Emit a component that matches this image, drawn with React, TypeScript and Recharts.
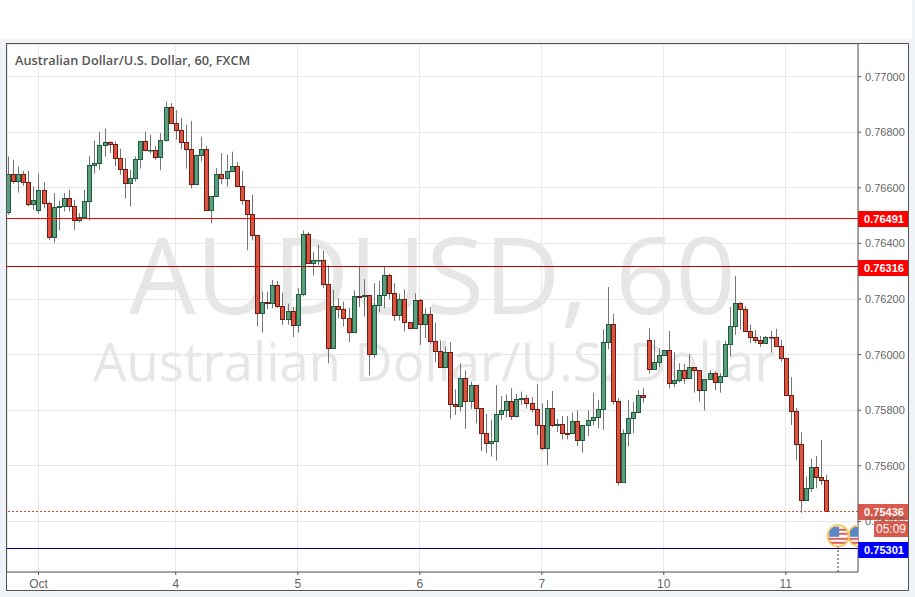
import { ComposedChart, Bar, XAxis, YAxis, CartesianGrid, ReferenceLine, ReferenceDot } from 'recharts';

// hourly AUD/USD candles
const opens = [
  0.76513, 0.76649, 0.76624, 0.76649, 0.76621, 0.76541, 0.76520, 0.76592, 0.76545, 0.76423, 0.76531, 0.76534,
  0.76563, 0.76534, 0.76484, 0.76495, 0.76552, 0.76682, 0.76689, 0.76754, 0.76765, 0.76757, 0.76707, 0.76667,
  0.76617, 0.76635, 0.76703, 0.76768, 0.76735, 0.76736, 0.76711, 0.76772, 0.76891, 0.76833, 0.76808, 0.76765,
  0.76739, 0.76613, 0.76718, 0.76739, 0.76520, 0.76570, 0.76649, 0.76635, 0.76660, 0.76678, 0.76606, 0.76556,
  0.76505, 0.76430, 0.76149, 0.76189, 0.76185, 0.76250, 0.76174, 0.76127, 0.76156, 0.76106, 0.76217, 0.76433,
  0.76329, 0.76339, 0.76340, 0.76253, 0.76023, 0.76174, 0.76163, 0.76131, 0.76083, 0.76211, 0.76210, 0.76214,
  0.76001, 0.76178, 0.76214, 0.76286, 0.76221, 0.76142, 0.76199, 0.76117, 0.76095, 0.76196, 0.76109, 0.76145,
  0.76048, 0.76012, 0.75955, 0.76009, 0.75821, 0.75814, 0.75915, 0.75832, 0.75890, 0.75807, 0.75717, 0.75681,
  0.75688, 0.75785, 0.75800, 0.75832, 0.75778, 0.75839, 0.75843, 0.75825, 0.75803, 0.75746, 0.75663, 0.75807,
  0.75746, 0.75749, 0.75718, 0.75717, 0.75760, 0.75692, 0.75746, 0.75764, 0.75775, 0.75803, 0.76045, 0.76109,
  0.75832, 0.75541, 0.75717, 0.75771, 0.75793, 0.75854, 0.76052, 0.75947, 0.75973, 0.75998, 0.76016, 0.75897,
  0.75908, 0.75944, 0.75915, 0.75955, 0.75944, 0.75872, 0.75911, 0.75933, 0.75901, 0.75922, 0.76037, 0.76102,
  0.76185, 0.76163, 0.76084, 0.76063, 0.76052, 0.76041, 0.76064, 0.76063, 0.76030, 0.75987, 0.75854, 0.75796,
  0.75677, 0.75476, 0.75519, 0.75595, 0.75559, 0.75548,
];
const highs = [
  0.76713, 0.76701, 0.76677, 0.76661, 0.76661, 0.76605, 0.76651, 0.76621, 0.76551, 0.76581, 0.76553, 0.76581,
  0.76593, 0.76557, 0.76509, 0.76593, 0.76715, 0.76769, 0.76801, 0.76813, 0.76767, 0.76767, 0.76741, 0.76707,
  0.76665, 0.76713, 0.76769, 0.76802, 0.76791, 0.76751, 0.76797, 0.76910, 0.76905, 0.76879, 0.76851, 0.76827,
  0.76841, 0.76719, 0.76784, 0.76751, 0.76570, 0.76671, 0.76725, 0.76719, 0.76730, 0.76693, 0.76661, 0.76556,
  0.76575, 0.76430, 0.76227, 0.76227, 0.76269, 0.76265, 0.76223, 0.76183, 0.76171, 0.76239, 0.76447, 0.76441,
  0.76370, 0.76395, 0.76373, 0.76321, 0.76233, 0.76203, 0.76191, 0.76167, 0.76231, 0.76315, 0.76271, 0.76214,
  0.76257, 0.76265, 0.76315, 0.76291, 0.76257, 0.76219, 0.76235, 0.76117, 0.76221, 0.76201, 0.76167, 0.76171,
  0.76115, 0.76051, 0.76029, 0.76045, 0.75875, 0.75969, 0.75943, 0.75903, 0.75890, 0.75807, 0.75787, 0.75765,
  0.75890, 0.75851, 0.75857, 0.75879, 0.75859, 0.75867, 0.75855, 0.75847, 0.75895, 0.75825, 0.75837, 0.75869,
  0.75769, 0.75779, 0.75779, 0.75791, 0.75799, 0.75746, 0.75799, 0.75863, 0.75837, 0.76091, 0.76243, 0.76147,
  0.75843, 0.75731, 0.75837, 0.75829, 0.75873, 0.75879, 0.76095, 0.76055, 0.76023, 0.76016, 0.76085, 0.76009,
  0.75969, 0.75967, 0.76003, 0.75955, 0.75944, 0.75911, 0.75945, 0.75940, 0.75933, 0.76049, 0.76171, 0.76283,
  0.76189, 0.76175, 0.76107, 0.76089, 0.76067, 0.76067, 0.76085, 0.76093, 0.76053, 0.75987, 0.75919, 0.75808,
  0.75721, 0.75561, 0.75625, 0.75635, 0.75693, 0.75567,
];
const lows = [
  0.76503, 0.76615, 0.76583, 0.76607, 0.76533, 0.76521, 0.76507, 0.76527, 0.76413, 0.76403, 0.76447, 0.76515,
  0.76515, 0.76449, 0.76475, 0.76491, 0.76483, 0.76651, 0.76665, 0.76713, 0.76725, 0.76677, 0.76647, 0.76562,
  0.76533, 0.76623, 0.76669, 0.76731, 0.76723, 0.76701, 0.76663, 0.76767, 0.76833, 0.76773, 0.76739, 0.76669,
  0.76598, 0.76613, 0.76695, 0.76520, 0.76472, 0.76570, 0.76613, 0.76605, 0.76660, 0.76605, 0.76539, 0.76375,
  0.76411, 0.76101, 0.76079, 0.76163, 0.76167, 0.76167, 0.76107, 0.76107, 0.76063, 0.76079, 0.76209, 0.76325,
  0.76285, 0.76323, 0.76239, 0.75969, 0.76023, 0.76131, 0.76101, 0.76045, 0.76077, 0.76171, 0.76137, 0.75925,
  0.75989, 0.76153, 0.76167, 0.76199, 0.76121, 0.76123, 0.76083, 0.76091, 0.76095, 0.76035, 0.76059, 0.76039,
  0.75973, 0.75951, 0.75951, 0.75769, 0.75783, 0.75795, 0.75733, 0.75805, 0.75753, 0.75653, 0.75645, 0.75633,
  0.75619, 0.75765, 0.75773, 0.75765, 0.75773, 0.75819, 0.75805, 0.75791, 0.75711, 0.75655, 0.75603, 0.75739,
  0.75721, 0.75695, 0.75695, 0.75713, 0.75671, 0.75647, 0.75707, 0.75745, 0.75735, 0.75729, 0.76019, 0.75820,
  0.75529, 0.75541, 0.75669, 0.75717, 0.75789, 0.75827, 0.75932, 0.75947, 0.75955, 0.75998, 0.75878, 0.75883,
  0.75899, 0.75895, 0.75915, 0.75863, 0.75831, 0.75799, 0.75911, 0.75871, 0.75863, 0.75922, 0.75993, 0.76071,
  0.76089, 0.76084, 0.76041, 0.76041, 0.76027, 0.76041, 0.76007, 0.76030, 0.75975, 0.75854, 0.75747, 0.75621,
  0.75431, 0.75476, 0.75507, 0.75519, 0.75531, 0.75436,
];
const closes = [
  0.76649, 0.76624, 0.76649, 0.76621, 0.76541, 0.76556, 0.76592, 0.76545, 0.76423, 0.76531, 0.76534, 0.76563,
  0.76534, 0.76484, 0.76495, 0.76552, 0.76682, 0.76689, 0.76754, 0.76765, 0.76757, 0.76707, 0.76667, 0.76617,
  0.76635, 0.76703, 0.76768, 0.76736, 0.76737, 0.76711, 0.76772, 0.76891, 0.76833, 0.76808, 0.76765, 0.76739,
  0.76613, 0.76718, 0.76739, 0.76520, 0.76570, 0.76649, 0.76635, 0.76660, 0.76678, 0.76606, 0.76556, 0.76505,
  0.76430, 0.76149, 0.76189, 0.76185, 0.76250, 0.76174, 0.76127, 0.76156, 0.76106, 0.76217, 0.76433, 0.76329,
  0.76340, 0.76341, 0.76253, 0.76023, 0.76174, 0.76163, 0.76131, 0.76083, 0.76210, 0.76209, 0.76214, 0.76001,
  0.76178, 0.76214, 0.76286, 0.76221, 0.76142, 0.76199, 0.76117, 0.76095, 0.76196, 0.76109, 0.76145, 0.76048,
  0.76012, 0.75955, 0.76009, 0.75821, 0.75814, 0.75915, 0.75832, 0.75890, 0.75807, 0.75717, 0.75681, 0.75688,
  0.75785, 0.75800, 0.75832, 0.75778, 0.75839, 0.75843, 0.75825, 0.75803, 0.75746, 0.75663, 0.75807, 0.75746,
  0.75749, 0.75717, 0.75716, 0.75760, 0.75692, 0.75746, 0.75764, 0.75775, 0.75803, 0.76045, 0.76109, 0.75832,
  0.75541, 0.75717, 0.75771, 0.75793, 0.75854, 0.75847, 0.75947, 0.75973, 0.75998, 0.76016, 0.75897, 0.75908,
  0.75944, 0.75915, 0.75955, 0.75944, 0.75872, 0.75911, 0.75933, 0.75901, 0.75922, 0.76037, 0.76102, 0.76185,
  0.76163, 0.76084, 0.76063, 0.76052, 0.76041, 0.76063, 0.76062, 0.76030, 0.75987, 0.75854, 0.75796, 0.75677,
  0.75476, 0.75519, 0.75595, 0.75559, 0.75548, 0.75436,
];

const dayTicks = [6, 33, 57, 81, 105, 129, 153];
const dayLabels = ['Oct', '4', '5', '6', '7', '10', '11'];
const priceTicks = [0.754, 0.756, 0.758, 0.76, 0.762, 0.764, 0.766, 0.768, 0.77];

const candles = opens.map((open, i) => ({ index: i, open, high: highs[i], low: lows[i], close: closes[i] }));

const UP_FILL = '#5c9e7c';
const UP_EDGE = '#1d5c40';
const DOWN_FILL = '#dc5340';
const DOWN_EDGE = '#6e1c14';

function Candle(props: any) {
  const { x, y, width, height, payload } = props;
  const { open, high, low, close } = payload;
  const cx = Math.round(x + width / 2);
  const perUnit = height / (high - low);
  const top = y + (high - Math.max(open, close)) * perUnit;
  const bottom = y + (high - Math.min(open, close)) * perUnit;
  const up = close >= open;
  return (
    <g>
      <line x1={cx + 0.5} x2={cx + 0.5} y1={y} y2={y + height} stroke="#757575" strokeWidth={1} />
      <rect
        x={cx - 1.5}
        y={Math.round(top) + 0.5}
        width={4}
        height={Math.max(Math.round(bottom) - Math.round(top), 0.5)}
        fill={up ? UP_FILL : DOWN_FILL}
        stroke={up ? UP_EDGE : DOWN_EDGE}
        strokeWidth={1}
      />
    </g>
  );
}

function PriceTag({ viewBox, text, fill }: any) {
  const right = viewBox.x + viewBox.width;
  const y = Math.round(viewBox.y);
  return (
    <g>
      <rect x={right} y={y - 7} width={50} height={16} fill={fill} />
      <text x={right + 26} y={y + 5} textAnchor="middle" fill="#fff" fontSize={11} fontWeight={700} fontFamily="Liberation Sans">
        {text}
      </text>
    </g>
  );
}

// event marker on the time scale, the second one is cut by the price axis
function Flag({ cx, cy, id, clipRight }: any) {
  const left = clipRight ? cx - 11 : cx - 12;
  return (
    <svg x={left} y={cy - 12} width={clipRight ? 11 : 24} height={24} overflow="hidden">
      <clipPath id={id}>
        <circle cx={12} cy={12} r={10} />
      </clipPath>
      <circle cx={12} cy={12} r={10.5} fill="#fff" stroke="#fbc75e" strokeWidth={2} />
      <g clipPath={`url(#${id})`}>
        <rect x={12} y={5} width={12} height={2} fill="#e0605c" />
        <rect x={12} y={9} width={12} height={2} fill="#e0605c" />
        <rect x={0} y={14} width={24} height={2} fill="#e0605c" />
        <rect x={0} y={18} width={24} height={2} fill="#e0605c" />
        <rect x={3} y={3} width={10} height={10} fill="#5b86c8" />
      </g>
    </svg>
  );
}

export default function App() {
  return (
    <div style={{ position: 'fixed', left: 0, top: 0, width: 915, height: 597, background: '#f0f3f8', overflow: 'hidden' }}>
      <style>{`.recharts-cartesian-grid line, .recharts-reference-line line { shape-rendering: crispEdges; }`}</style>
      <div style={{ position: 'absolute', left: 0, top: 0, width: 912, height: 39, background: '#fff' }} />
      <div style={{ position: 'absolute', left: 7, top: 44, width: 901, height: 546, background: '#fff', outline: '1px solid #555', overflow: 'hidden' }}>
        <div style={{ position: 'absolute', left: 0, width: 851, top: 173, textAlign: 'center', fontFamily: 'Open Sans', fontSize: 105.5, lineHeight: '112px', color: '#e6e6e6', whiteSpace: 'nowrap' }}>
          AUDUSD, 60
        </div>
        <div style={{ position: 'absolute', left: 2, width: 851, top: 287, textAlign: 'center', fontFamily: 'Open Sans', fontSize: 52.5, lineHeight: '60px', color: '#e6e6e6', whiteSpace: 'nowrap' }}>
          Australian Dollar/U.S. Dollar
        </div>
        <ComposedChart
          width={901}
          height={546}
          data={candles}
          margin={{ top: 0, right: 0, bottom: 0, left: 0 }}
          style={{ position: 'absolute', left: 0, top: 0 }}
        >
          <CartesianGrid stroke="#e8e8e8" />
          <XAxis
            type="number"
            dataKey="index"
            domain={[-0.197, 167.2]}
            ticks={dayTicks}
            interval={0}
            allowDataOverflow
            tickFormatter={(v: number) => dayLabels[dayTicks.indexOf(v)]}
            tick={{ fill: '#666', fontSize: 12, fontFamily: 'Liberation Sans' }}
            tickLine={{ stroke: '#555' }}
            tickSize={3}
            tickMargin={4}
            axisLine={{ stroke: '#555' }}
            height={18}
          />
          <YAxis
            orientation="right"
            type="number"
            domain={[0.752178, 0.771175]}
            ticks={priceTicks}
            interval={0}
            allowDataOverflow
            tickFormatter={(v: number) => v.toFixed(5)}
            tick={{ fill: '#666', fontSize: 11, fontFamily: 'Liberation Sans' }}
            tickLine={{ stroke: '#555' }}
            tickSize={3}
            tickMargin={4}
            axisLine={{ stroke: '#555' }}
            width={50}
          />
          <Bar dataKey={(d: any) => [d.low, d.high]} barSize={5} isAnimationActive={false} shape={<Candle />} />
          <ReferenceLine y={0.76491} stroke="#ff0000" label={<PriceTag text="0.76491" fill="#ff0000" />} />
          <ReferenceLine y={0.76316} stroke="#c00000" label={<PriceTag text="0.76316" fill="#ff0000" />} />
          <ReferenceLine y={0.75436} stroke="#c8503f" strokeDasharray="2 2" label={<PriceTag text="0.75436" fill="#d9594a" />} />
          <ReferenceLine y={0.75301} stroke="#00008a" label={<PriceTag text="0.75301" fill="#0000ff" />} />
          <ReferenceLine
            segment={[{ x: 163.3, y: 0.7531 }, { x: 163.3, y: 0.752178 }]}
            stroke="#999"
            strokeWidth={2}
            strokeDasharray="2 2"
          />
          <ReferenceDot x={163.3} y={0.75348} r={10} shape={<Flag id="flag-a" />} />
          <ReferenceDot x={167.2} y={0.75348} r={10} shape={<Flag id="flag-b" clipRight />} />
        </ComposedChart>
        <div style={{ position: 'absolute', left: 8, top: 8, fontFamily: 'Open Sans', fontWeight: 600, fontSize: 12.75, lineHeight: '16px', color: '#555' }}>
          Australian Dollar/U.S. Dollar, 60, FXCM
        </div>
        <div style={{ position: 'absolute', left: 867, top: 477, width: 34, height: 16, background: '#d9594a', color: '#fff', fontFamily: 'Liberation Sans', fontSize: 12, lineHeight: '16px', textAlign: 'center' }}>
          05:09
        </div>
      </div>
    </div>
  );
}
